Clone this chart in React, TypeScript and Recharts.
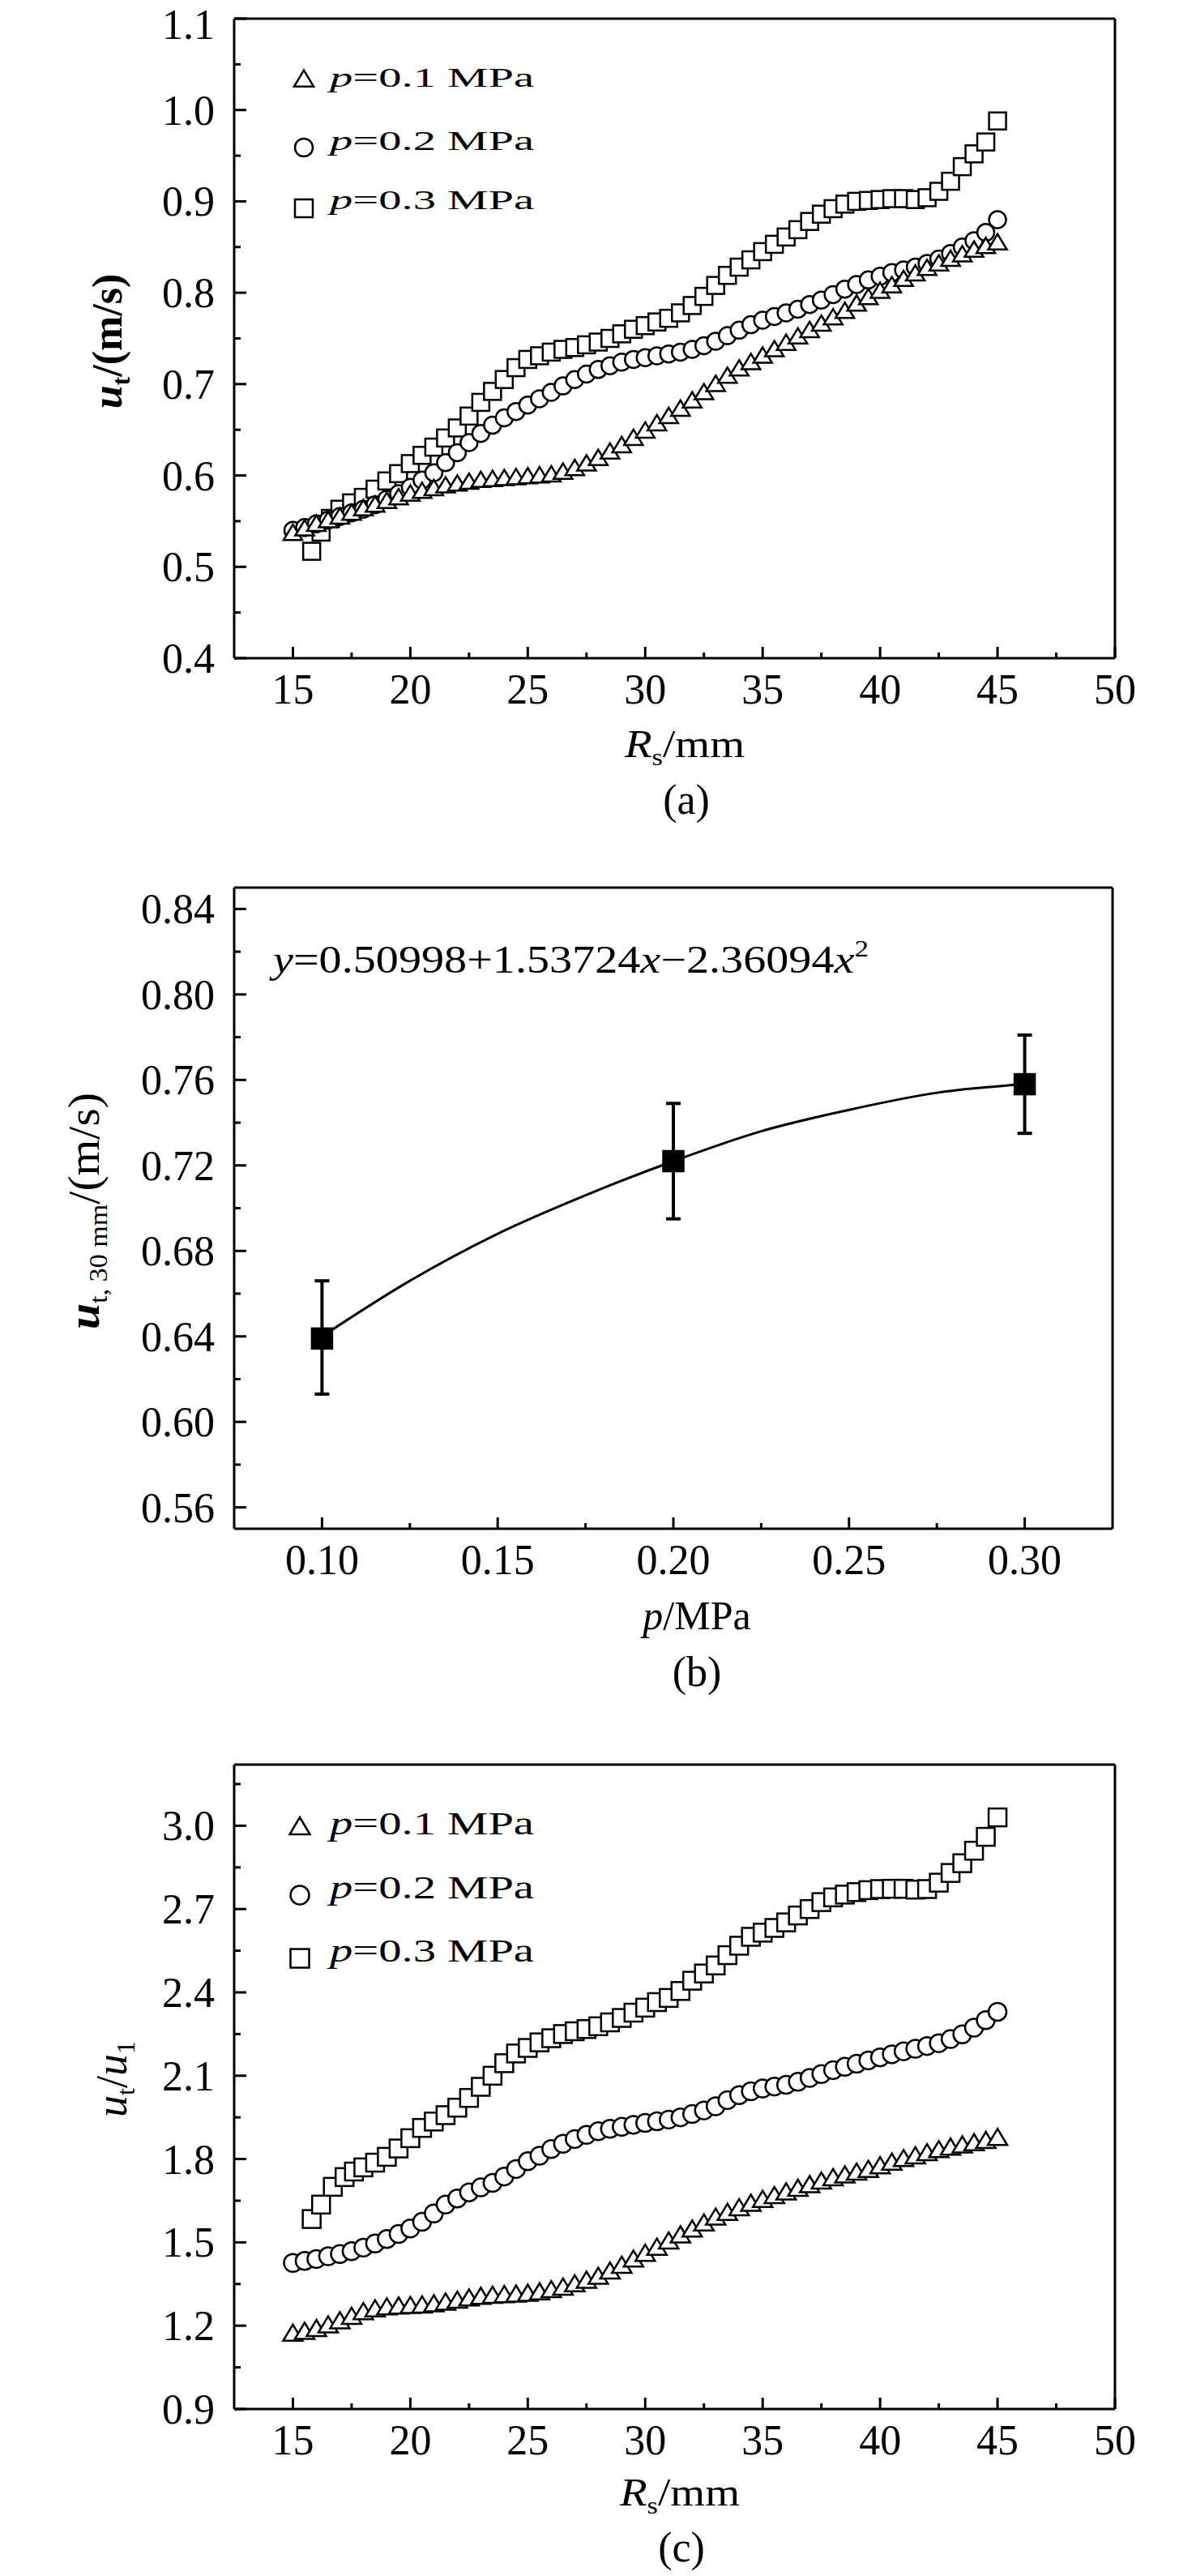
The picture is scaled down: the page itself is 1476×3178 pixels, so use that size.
import React from "react";
import {
  ComposedChart,
  ErrorBar,
  Line,
  ReferenceLine,
  Scatter,
  ScatterChart,
  XAxis,
  YAxis,
} from "recharts";

const FONT = '"Liberation Serif", "Times New Roman", Times, serif';
const INK = "#000";

// ---- panel (a): u_t against R_s ----
const rsGrid = [
  15, 15.5, 16, 16.5, 17, 17.5, 18, 18.5, 19, 19.5, 20, 20.5, 21, 21.5, 22,
  22.5, 23, 23.5, 24, 24.5, 25, 25.5, 26, 26.5, 27, 27.5, 28, 28.5, 29, 29.5,
  30, 30.5, 31, 31.5, 32, 32.5, 33, 33.5, 34, 34.5, 35, 35.5, 36, 36.5, 37,
  37.5, 38, 38.5, 39, 39.5, 40, 40.5, 41, 41.5, 42, 42.5, 43, 43.5, 44, 44.5,
  45,
];
const utA01 = [
  0.535, 0.54, 0.545, 0.549, 0.553, 0.557, 0.562, 0.566, 0.57, 0.574, 0.578,
  0.581, 0.584, 0.587, 0.589, 0.591, 0.593, 0.594, 0.595, 0.596, 0.597, 0.598,
  0.599, 0.602, 0.606, 0.611, 0.617, 0.624, 0.631, 0.639, 0.647, 0.655, 0.663,
  0.671, 0.68, 0.689, 0.698, 0.707, 0.715, 0.722, 0.729, 0.736, 0.743, 0.75,
  0.757, 0.764, 0.771, 0.778, 0.786, 0.793, 0.8, 0.806, 0.813, 0.819, 0.825,
  0.83, 0.835, 0.84, 0.845, 0.849, 0.853,
];
const utA02 = [
  0.54, 0.543, 0.547, 0.551, 0.555, 0.559, 0.563, 0.568, 0.574, 0.58, 0.587,
  0.595, 0.603, 0.614, 0.625, 0.636, 0.646, 0.655, 0.663, 0.67, 0.677, 0.684,
  0.691, 0.698, 0.705, 0.711, 0.716, 0.72, 0.724, 0.727, 0.729, 0.731, 0.733,
  0.735, 0.738, 0.742, 0.747, 0.753, 0.759, 0.765, 0.77, 0.774, 0.778, 0.782,
  0.787, 0.792, 0.798, 0.804, 0.809, 0.814, 0.818, 0.822, 0.825, 0.828, 0.832,
  0.837, 0.843, 0.85, 0.857, 0.866, 0.88,
];
const rsA03 = [
  15.8, 16.2, 16.6, 17, 17.5, 18, 18.5, 19, 19.5, 20, 20.5, 21, 21.5, 22, 22.5,
  23, 23.5, 24, 24.5, 25, 25.5, 26, 26.5, 27, 27.5, 28, 28.5, 29, 29.5, 30,
  30.5, 31, 31.5, 32, 32.5, 33, 33.5, 34, 34.5, 35, 35.5, 36, 36.5, 37, 37.5,
  38, 38.5, 39, 39.5, 40, 40.5, 41, 41.5, 42, 42.5, 43, 43.5, 44, 44.5, 45,
];
const utA03 = [
  0.517, 0.538, 0.553, 0.563, 0.57, 0.576, 0.585, 0.594, 0.602, 0.613, 0.622,
  0.631, 0.641, 0.652, 0.665, 0.68, 0.692, 0.705, 0.718, 0.727, 0.731, 0.735,
  0.738, 0.74, 0.743, 0.746, 0.75, 0.755, 0.76, 0.764, 0.768, 0.772, 0.778,
  0.786, 0.796, 0.808, 0.819, 0.828, 0.836, 0.845, 0.853, 0.861, 0.869, 0.878,
  0.886, 0.892, 0.897, 0.9, 0.901, 0.902, 0.903, 0.903, 0.902, 0.904, 0.911,
  0.922, 0.938, 0.952, 0.965, 0.988,
];

// ---- panel (b): u_t at 30 mm against p ----
const pressure = [0.1, 0.2, 0.3];
const ut30 = [0.639, 0.722, 0.758];
const ut30Minus = [0.026, 0.027, 0.023];
const ut30Plus = [0.027, 0.027, 0.023];
const fitP = [0.1, 0.125, 0.15, 0.175, 0.2, 0.225, 0.25, 0.275, 0.3];
const fitU = [0.64, 0.666, 0.688, 0.706, 0.722, 0.736, 0.746, 0.754, 0.758];

// ---- panel (c): u_t/u_1 against R_s ----
const ratioC01 = [
  1.165, 1.172, 1.182, 1.195, 1.21, 1.226, 1.243, 1.253, 1.26, 1.263, 1.265,
  1.267, 1.271, 1.277, 1.284, 1.292, 1.298, 1.302, 1.304, 1.306, 1.309, 1.314,
  1.322, 1.331, 1.343, 1.356, 1.37, 1.389, 1.41, 1.432, 1.453, 1.475, 1.497,
  1.519, 1.54, 1.562, 1.583, 1.6, 1.617, 1.633, 1.647, 1.661, 1.674, 1.687,
  1.7, 1.713, 1.725, 1.735, 1.745, 1.755, 1.768, 1.781, 1.794, 1.804, 1.815,
  1.826, 1.835, 1.843, 1.851, 1.859, 1.87,
];
const ratioC02 = [
  1.426, 1.433, 1.44, 1.45, 1.458, 1.468, 1.481, 1.496, 1.512, 1.53, 1.55,
  1.574, 1.604, 1.636, 1.658, 1.68, 1.698, 1.714, 1.737, 1.764, 1.792, 1.812,
  1.836, 1.855, 1.872, 1.887, 1.9, 1.909, 1.916, 1.923, 1.93, 1.936, 1.942,
  1.95, 1.962, 1.975, 1.99, 2.012, 2.03, 2.044, 2.054, 2.061, 2.067, 2.078,
  2.092, 2.106, 2.12, 2.132, 2.143, 2.155, 2.166, 2.177, 2.188, 2.197, 2.207,
  2.217, 2.232, 2.249, 2.273, 2.3, 2.33,
];
const rsC03 = [
  15.8, 16.2, 16.7, 17.2, 17.6, 18, 18.5, 19, 19.5, 20, 20.5, 21, 21.5, 22,
  22.5, 23, 23.5, 24, 24.5, 25, 25.5, 26, 26.5, 27, 27.5, 28, 28.5, 29, 29.5,
  30, 30.5, 31, 31.5, 32, 32.5, 33, 33.5, 34, 34.5, 35, 35.5, 36, 36.5, 37,
  37.5, 38, 38.5, 39, 39.5, 40, 40.5, 41, 41.5, 42, 42.5, 43, 43.5, 44, 44.5,
  45,
];
const ratioC03 = [
  1.584, 1.636, 1.7, 1.735, 1.755, 1.77, 1.787, 1.808, 1.838, 1.875, 1.912,
  1.935, 1.958, 1.985, 2.02, 2.06, 2.1, 2.145, 2.18, 2.2, 2.22, 2.235, 2.25,
  2.26, 2.268, 2.278, 2.292, 2.308, 2.327, 2.345, 2.365, 2.38, 2.405, 2.442,
  2.468, 2.497, 2.534, 2.568, 2.6, 2.615, 2.632, 2.652, 2.677, 2.7, 2.725,
  2.742, 2.752, 2.761, 2.768, 2.772, 2.773, 2.773, 2.77, 2.772, 2.795, 2.83,
  2.865, 2.91, 2.96, 3.03,
];

// ---- ticks ----
const rsTicks = [15, 17.5, 20, 22.5, 25, 27.5, 30, 32.5, 35, 37.5, 40, 42.5, 45, 47.5, 50];
const rsMajor = [15, 20, 25, 30, 35, 40, 45, 50];
const utTicksA = [0.4, 0.45, 0.5, 0.55, 0.6, 0.65, 0.7, 0.75, 0.8, 0.85, 0.9, 0.95, 1.0, 1.05, 1.1];
const utMajorA = [0.4, 0.5, 0.6, 0.7, 0.8, 0.9, 1.0, 1.1];
const pTicks = [0.1, 0.125, 0.15, 0.175, 0.2, 0.225, 0.25, 0.275, 0.3];
const pMajor = [0.1, 0.15, 0.2, 0.25, 0.3];
const ut30Ticks = [0.56, 0.58, 0.6, 0.62, 0.64, 0.66, 0.68, 0.7, 0.72, 0.74, 0.76, 0.78, 0.8, 0.82, 0.84];
const ut30Major = [0.56, 0.6, 0.64, 0.68, 0.72, 0.76, 0.8, 0.84];
const ratioTicks = [0.9, 1.05, 1.2, 1.35, 1.5, 1.65, 1.8, 1.95, 2.1, 2.25, 2.4, 2.55, 2.7, 2.85, 3.0, 3.15];
const ratioMajor = [0.9, 1.2, 1.5, 1.8, 2.1, 2.4, 2.7, 3.0];

const pressureLabels = ["0.1", "0.2", "0.3"];

const isMajor = (v: number, majors: number[]) =>
  majors.some((m) => Math.abs(m - v) < 1e-6);

function makeXTick(majors: number[], fmt: (v: number) => string) {
  return function XTick(props: any) {
    const { x, y, payload } = props;
    const v = Number(payload.value);
    const major = isMajor(v, majors);
    return (
      <g>
        <line x1={x} x2={x} y1={y} y2={y - (major ? 14 : 7)} stroke={INK} strokeWidth={3} />
        {major && (
          <text x={x} y={y + 56} textAnchor="middle" fontFamily={FONT} fontSize={52} fill={INK}>
            {fmt(v)}
          </text>
        )}
      </g>
    );
  };
}

function makeYTick(majors: number[], fmt: (v: number) => string) {
  return function YTick(props: any) {
    const { x, y, payload } = props;
    const v = Number(payload.value);
    const major = isMajor(v, majors);
    // keep the topmost label inside the page
    const baseline = Math.max(y + 18, 48);
    return (
      <g>
        <line x1={x} x2={x + (major ? 15 : 8)} y1={y} y2={y} stroke={INK} strokeWidth={3} />
        {major && (
          <text x={x - 24} y={baseline} textAnchor="end" fontFamily={FONT} fontSize={52} fill={INK}>
            {fmt(v)}
          </text>
        )}
      </g>
    );
  };
}

const squareShape = (s: number, fill = "#fff") => (p: any) => (
  <rect x={p.cx - s / 2} y={p.cy - s / 2} width={s} height={s} fill={fill} stroke={INK} strokeWidth={2.5} />
);
const circleShape = (s: number) => (p: any) => (
  <circle cx={p.cx} cy={p.cy} r={s / 2} fill="#fff" stroke={INK} strokeWidth={2.5} />
);
const triangleShape = (w: number, h: number) => (p: any) => (
  <polygon
    points={`${p.cx},${p.cy - (h * 2) / 3} ${p.cx - w / 2},${p.cy + h / 3} ${p.cx + w / 2},${p.cy + h / 3}`}
    fill="#fff"
    stroke={INK}
    strokeWidth={2.5}
    strokeLinejoin="miter"
  />
);

const axisLine = { stroke: INK, strokeWidth: 3 };
const zip = (xs: number[], ys: number[]) => xs.map((x, i) => ({ x, y: ys[i] }));

function PanelRs({
  top,
  height,
  marginTop,
  marginBottom,
  yDomain,
  yTicks,
  yMajor,
  yFmt,
  s01,
  s02,
  x03,
  s03,
  size,
}: any) {
  return (
    <div style={{ position: "absolute", left: 0, top }}>
      <ScatterChart width={1476} height={height} margin={{ top: marginTop, right: 100, bottom: marginBottom, left: 0 }}>
        <XAxis
          type="number"
          dataKey="x"
          domain={[12.5, 50]}
          ticks={rsTicks}
          interval={0}
          allowDataOverflow
          height={60}
          tickSize={0}
          tickMargin={0}
          tickLine={false}
          axisLine={axisLine}
          tick={makeXTick(rsMajor, (v) => String(v))}
        />
        <YAxis
          type="number"
          dataKey="y"
          domain={yDomain}
          ticks={yTicks}
          interval={0}
          allowDataOverflow
          width={289}
          tickSize={0}
          tickMargin={0}
          tickLine={false}
          axisLine={axisLine}
          tick={makeYTick(yMajor, yFmt)}
        />
        <ReferenceLine y={yDomain[1]} stroke={INK} strokeWidth={3} />
        <ReferenceLine x={50} stroke={INK} strokeWidth={3} />
        <Scatter data={zip(x03, s03)} shape={squareShape(size)} isAnimationActive={false} />
        <Scatter data={zip(rsGrid, s02)} shape={circleShape(size)} isAnimationActive={false} />
        <Scatter data={zip(rsGrid, s01)} shape={triangleShape(size + 2, size - 2)} isAnimationActive={false} />
      </ScatterChart>
    </div>
  );
}

function PanelP() {
  const fit = zip(fitP, fitU);
  const means = pressure.map((x, i) => ({ x, y: ut30[i], err: [ut30Minus[i], ut30Plus[i]] }));
  return (
    <div style={{ position: "absolute", left: 0, top: 1000 }}>
      <ComposedChart width={1476} height={1000} data={fit} margin={{ top: 95, right: 103, bottom: 54, left: 0 }}>
        <XAxis
          type="number"
          dataKey="x"
          domain={[0.075, 0.325]}
          ticks={pTicks}
          interval={0}
          allowDataOverflow
          height={60}
          tickSize={0}
          tickMargin={0}
          tickLine={false}
          axisLine={axisLine}
          tick={makeXTick(pMajor, (v) => v.toFixed(2))}
        />
        <YAxis
          type="number"
          domain={[0.55, 0.85]}
          ticks={ut30Ticks}
          interval={0}
          allowDataOverflow
          width={289}
          tickSize={0}
          tickMargin={0}
          tickLine={false}
          axisLine={axisLine}
          tick={makeYTick(ut30Major, (v) => v.toFixed(2))}
        />
        <ReferenceLine y={0.85} stroke={INK} strokeWidth={3} />
        <ReferenceLine x={0.325} stroke={INK} strokeWidth={3} />
        <Line
          dataKey="y"
          type="monotone"
          stroke={INK}
          strokeWidth={3}
          dot={false}
          activeDot={false}
          isAnimationActive={false}
        />
        <Scatter data={means} dataKey="y" shape={squareShape(25, INK)} isAnimationActive={false}>
          <ErrorBar dataKey="err" direction="y" width={9} stroke={INK} strokeWidth={4} isAnimationActive={false} />
        </Scatter>
      </ComposedChart>
    </div>
  );
}

function LegendRows({ x, textX, rows, size, fontSize }: any) {
  const shapes = [triangleShape(size + 2, size - 2), circleShape(size), squareShape(size)];
  return (
    <g>
      {rows.map((r: any, i: number) => (
        <g key={i}>
          {shapes[i]({ cx: x, cy: r.marker })}
          <text
            x={textX}
            y={r.baseline}
            fontFamily={FONT}
            fontSize={fontSize}
            fill={INK}
            textLength={252}
            lengthAdjust="spacingAndGlyphs"
          >
            <tspan fontStyle="italic">p</tspan>={pressureLabels[i]} MPa
          </text>
        </g>
      ))}
    </g>
  );
}

function Overlay() {
  return (
    <svg
      width={1476}
      height={3178}
      style={{ position: "absolute", left: 0, top: 0, pointerEvents: "none" }}
    >
      {/* panel (a) */}
      <LegendRows
        x={375}
        textX={407}
        size={22}
        fontSize={34}
        rows={[
          { marker: 100, baseline: 107 },
          { marker: 182, baseline: 185 },
          { marker: 257, baseline: 258 },
        ]}
      />
      <text
        transform="translate(150,421) rotate(-90)"
        textAnchor="middle"
        fontFamily={FONT}
        fontSize={52}
        fontWeight="bold"
        fill={INK}
      >
        <tspan fontStyle="italic">u</tspan>
        <tspan fontSize={32} dy={10}>t</tspan>
        <tspan dy={-10}>/(m/s)</tspan>
      </text>
      <text x={845} y={934} textAnchor="middle" fontFamily={FONT} fontSize={48} fill={INK} textLength={148} lengthAdjust="spacingAndGlyphs">
        <tspan fontStyle="italic">R</tspan>
        <tspan fontSize={30} dy={10}>s</tspan>
        <tspan dy={-10}>/mm</tspan>
      </text>
      <text x={847} y={1004} textAnchor="middle" fontFamily={FONT} fontSize={52} fill={INK}>
        (a)
      </text>

      {/* panel (b) */}
      <text x={337} y={1200} fontFamily={FONT} fontSize={48} fill={INK} textLength={735} lengthAdjust="spacingAndGlyphs">
        <tspan fontStyle="italic">y</tspan>=0.50998+1.53724<tspan fontStyle="italic">x</tspan>−2.36094
        <tspan fontStyle="italic">x</tspan>
        <tspan fontSize={30} dy={-20}>2</tspan>
      </text>
      <text
        transform="translate(122,1494) rotate(-90)"
        textAnchor="middle"
        fontFamily={FONT}
        fontSize={54}
        fill={INK}
        textLength={292}
        lengthAdjust="spacingAndGlyphs"
      >
        <tspan fontStyle="italic" fontWeight="bold">u</tspan>
        <tspan fontSize={32} dy={10}>t, 30 mm</tspan>
        <tspan dy={-10}>/(m/s)</tspan>
      </text>
      <text x={860} y={2010} textAnchor="middle" fontFamily={FONT} fontSize={50} fill={INK}>
        <tspan fontStyle="italic">p</tspan>/MPa
      </text>
      <text x={860} y={2080} textAnchor="middle" fontFamily={FONT} fontSize={52} fill={INK}>
        (b)
      </text>

      {/* panel (c) */}
      <LegendRows
        x={370}
        textX={407}
        size={23}
        fontSize={39}
        rows={[
          { marker: 2256, baseline: 2263 },
          { marker: 2338, baseline: 2342 },
          { marker: 2416, baseline: 2420 },
        ]}
      />
      <text
        transform="translate(156,2565) rotate(-90)"
        textAnchor="middle"
        fontFamily={FONT}
        fontSize={54}
        fill={INK}
      >
        <tspan fontStyle="italic">u</tspan>
        <tspan fontSize={32} dy={10}>t</tspan>
        <tspan dy={-10}>/</tspan>
        <tspan fontStyle="italic">u</tspan>
        <tspan fontSize={32} dy={10}>1</tspan>
      </text>
      <text x={839} y={3091} textAnchor="middle" fontFamily={FONT} fontSize={48} fill={INK} textLength={148} lengthAdjust="spacingAndGlyphs">
        <tspan fontStyle="italic">R</tspan>
        <tspan fontSize={30} dy={10}>s</tspan>
        <tspan dy={-10}>/mm</tspan>
      </text>
      <text x={841} y={3160} textAnchor="middle" fontFamily={FONT} fontSize={52} fill={INK}>
        (c)
      </text>
    </svg>
  );
}

export default function App() {
  return (
    <div style={{ position: "absolute", left: 0, top: 0, width: 1476, height: 3178, background: "#fff" }}>
      <PanelRs
        top={0}
        height={1000}
        marginTop={23}
        marginBottom={128}
        yDomain={[0.4, 1.1]}
        yTicks={utTicksA}
        yMajor={utMajorA}
        yFmt={(v: number) => v.toFixed(1)}
        s01={utA01}
        s02={utA02}
        x03={rsA03}
        s03={utA03}
        size={21}
      />
      <PanelP />
      <PanelRs
        top={2100}
        height={1078}
        marginTop={77}
        marginBottom={146}
        yDomain={[0.9, 3.22]}
        yTicks={ratioTicks}
        yMajor={ratioMajor}
        yFmt={(v: number) => v.toFixed(1)}
        s01={ratioC01}
        s02={ratioC02}
        x03={rsC03}
        s03={ratioC03}
        size={22}
      />
      <Overlay />
    </div>
  );
}
